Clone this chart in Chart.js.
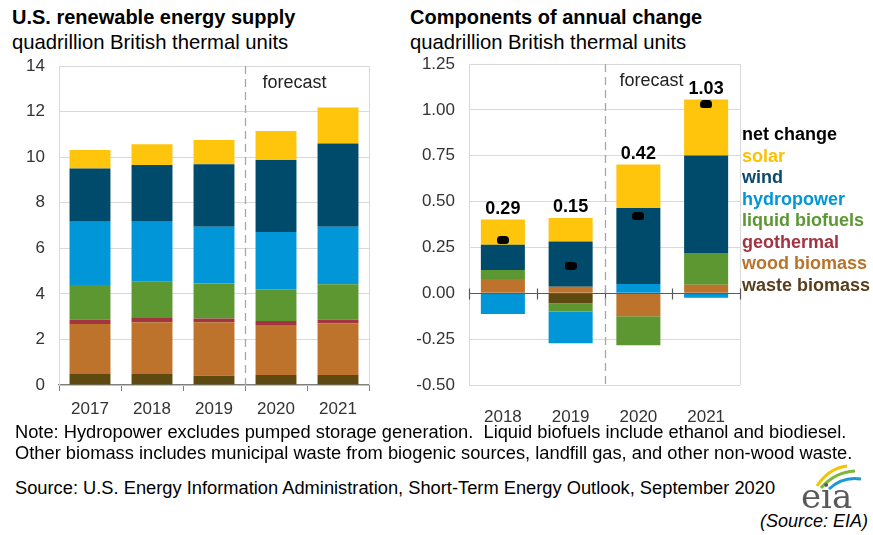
<!DOCTYPE html>
<html>
<head>
<meta charset="utf-8">
<script src="https://cdn.jsdelivr.net/npm/chart.js@4.4.0/dist/chart.umd.min.js"></script>
<style>
  body { margin: 0; width: 873px; height: 535px; background: #fff; position: relative; overflow: hidden;
         font-family: "Liberation Sans", Arial, sans-serif; color: #000; }
  .abs { position: absolute; white-space: nowrap; }
  .title { font-size: 20px; font-weight: bold; }
  .sub { font-size: 20.3px; }
  .legend div { font-size: 18px; font-weight: bold; line-height: 21.5px; }
  .note { font-size: 18.3px; line-height: 21px; }
  .box { position: absolute; top: 55px; height: 370px; }
</style>
</head>
<body>
<div class="abs title" style="left:12px; top:6px;">U.S. renewable energy supply</div>
<div class="abs sub" style="left:12px; top:31px;">quadrillion British thermal units</div>
<div class="abs title" style="left:410px; top:6px;">Components of annual change</div>
<div class="abs sub" style="left:410px; top:31px;">quadrillion British thermal units</div>

<div class="box" style="left:0; width:380px;"><canvas id="left"></canvas></div>
<div class="box" style="left:400px; width:473px;"><canvas id="right"></canvas></div>

<div class="abs legend" style="left:742px; top:124px;">
  <div style="color:#000">net change</div>
  <div style="color:#ffc000">solar</div>
  <div style="color:#0b4a6b">wind</div>
  <div style="color:#0096d7">hydropower</div>
  <div style="color:#5d9732">liquid biofuels</div>
  <div style="color:#a33340">geothermal</div>
  <div style="color:#b8732c">wood biomass</div>
  <div style="color:#5a3e1b">waste biomass</div>
</div>

<div class="abs note" style="left:15px; top:421px;">Note: Hydropower excludes pumped storage generation.&nbsp; Liquid biofuels include ethanol and biodiesel.<br>Other biomass includes municipal waste from biogenic sources, landfill gas, and other non-wood waste.</div>
<div class="abs note" style="left:15px; top:477px;">Source: U.S. Energy Information Administration, Short-Term Energy Outlook, September 2020</div>
<div class="abs" style="right:5px; top:511px; font-size:18px; font-style:italic;">(Source: EIA)</div>

<svg class="abs" style="left:795px; top:462px;" width="70" height="50">
  <path d="M22 24 Q34 6 52 4" stroke="#f5c400" stroke-width="3" fill="none"/>
  <path d="M26 26 Q40 10 60 9" stroke="#7fb539" stroke-width="3" fill="none"/>
  <path d="M34 27 Q48 14 66 17" stroke="#1b9ad6" stroke-width="3" fill="none"/>
  <text x="6" y="46" font-family="DejaVu Serif, serif" font-size="34" fill="#58595b">eia</text>
</svg>

<script>
// left chart: supply by source
const years = ["2017", "2018", "2019", "2020", "2021"];
const wasteBiomass = [0.48, 0.48, 0.41, 0.44, 0.44];
const woodBiomass = [2.20, 2.27, 2.34, 2.16, 2.26];
const geothermal = [0.20, 0.22, 0.17, 0.21, 0.18];
const liquidBiofuels = [1.51, 1.56, 1.54, 1.39, 1.54];
const hydropower = [2.77, 2.63, 2.48, 2.52, 2.52];
const wind = [2.34, 2.49, 2.75, 3.15, 3.66];
const solar = [0.81, 0.92, 1.06, 1.28, 1.58];

// right chart: annual change by source
const changeYears = ["2018", "2019", "2020", "2021"];
const wasteChange = [0, -0.055, 0, 0];
const woodChange = [0.078, 0.036, -0.125, 0.047];
const geoChange = [0, 0, 0, 0];
const biofuelChange = [0.049, -0.044, -0.158, 0.173];
const hydroChange = [-0.113, -0.173, 0.051, -0.025];
const windChange = [0.137, 0.247, 0.414, 0.531];
const solarChange = [0.138, 0.127, 0.237, 0.305];
const netChange = [0.29, 0.15, 0.42, 1.03];

const leftTicks = [0, 14, 2];
const rightTicks = [-0.5, 1.25, 0.25];

const colors = {
  waste: "#5e4a10", wood: "#bd732c", geo: "#a4343f", bio: "#5d9732",
  hydro: "#0096d7", wind: "#004b6c", solar: "#ffc40c"
};
const FONT = "Liberation Sans";

// small black rounded marker for net change
const dot = document.createElement("canvas");
dot.width = 12; dot.height = 8;
let dctx = dot.getContext("2d");
dctx.fillStyle = "#000";
dctx.beginPath();
dctx.roundRect(0, 0, 12, 8, 3.5);
dctx.fill();

const decor = {
  id: "decor",
  afterDatasetsDraw(chart, args, opts) {
    const { ctx, chartArea: a, scales: { x, y } } = chart;
    ctx.save();
    // right frame line
    ctx.strokeStyle = "#d9d9d9";
    ctx.lineWidth = 1;
    ctx.beginPath();
    ctx.moveTo(a.right + 0.5, a.top);
    ctx.lineTo(a.right + 0.5, a.bottom);
    ctx.stroke();

    // zero line with ticks
    if (opts.zeroLine) {
      let zy = Math.round(y.getPixelForValue(0)) + 0.5;
      ctx.strokeStyle = "#595959";
      ctx.lineWidth = 1.2;
      ctx.beginPath();
      ctx.moveTo(a.left, zy);
      ctx.lineTo(a.right, zy);
      let step = x.getPixelForValue(1) - x.getPixelForValue(0);
      for (let i = 0; i <= x.ticks.length; i++) {
        let tx = Math.round(x.getPixelForValue(i) - step / 2) + 0.5;
        ctx.moveTo(tx, zy - 5);
        ctx.lineTo(tx, zy + 6);
      }
      ctx.stroke();
    }

    // forecast divider
    let fx = Math.round((x.getPixelForValue(opts.split - 1) + x.getPixelForValue(opts.split)) / 2) + 0.5;
    ctx.strokeStyle = "#a6a6a6";
    ctx.lineWidth = 1.3;
    ctx.setLineDash([8, 5]);
    ctx.beginPath();
    ctx.moveTo(fx, a.top);
    ctx.lineTo(fx, a.bottom);
    ctx.stroke();
    ctx.setLineDash([]);

    ctx.fillStyle = "#222";
    ctx.font = "18px '" + FONT + "'";
    ctx.textAlign = "left";
    ctx.textBaseline = "alphabetic";
    ctx.fillText("forecast", fx + opts.gap, a.top + 21.5);

    // net change labels above each bar
    if (opts.netLabels) {
      ctx.font = "bold 18px '" + FONT + "'";
      ctx.fillStyle = "#000";
      ctx.textAlign = "center";
      const bars = chart.data.datasets.filter(d => d.type !== "line");
      opts.netLabels.forEach((v, i) => {
        let top = 0;
        bars.forEach(d => { if (d.data[i] > 0) top += d.data[i]; });
        ctx.fillText(v.toFixed(2), x.getPixelForValue(i), y.getPixelForValue(top) - 6);
      });
    }
    ctx.restore();
  }
};

function barSet(label, data, color) {
  return { label: label, data: data, backgroundColor: color, borderWidth: 0, order: 1 };
}

function fitY(w) {
  return function (s) {
    s.width = w;
    s.paddingTop = 0;
    s.paddingBottom = 0;
  };
}

// Left chart
new Chart(document.getElementById("left"), {
  type: "bar",
  data: {
    labels: years,
    datasets: [
      barSet("waste biomass", wasteBiomass, colors.waste),
      barSet("wood biomass", woodBiomass, colors.wood),
      barSet("geothermal", geothermal, colors.geo),
      barSet("liquid biofuels", liquidBiofuels, colors.bio),
      barSet("hydropower", hydropower, colors.hydro),
      barSet("wind", wind, colors.wind),
      barSet("solar", solar, colors.solar)
    ]
  },
  options: {
    responsive: true,
    maintainAspectRatio: false,
    animation: false,
    layout: { padding: { top: 11, right: 11, left: 0, bottom: 0 } },
    datasets: { bar: { categoryPercentage: 1, barPercentage: 0.66 } },
    scales: {
      x: {
        stacked: true,
        grid: { drawOnChartArea: false, drawTicks: true, tickLength: 6, color: "#7f7f7f" },
        border: { color: "#7f7f7f", width: 1.2 },
        ticks: { color: "#333", font: { family: FONT, size: 17 }, padding: 8 },
        afterFit(s) { s.height = 40; }
      },
      y: {
        stacked: true,
        min: leftTicks[0], max: leftTicks[1],
        ticks: { stepSize: leftTicks[2], color: "#333", font: { family: FONT, size: 17 }, padding: 14 },
        grid: { color: "#d9d9d9", drawTicks: false },
        border: { color: "#d9d9d9" },
        afterFit: fitY(59)
      }
    },
    plugins: {
      legend: { display: false },
      tooltip: { enabled: false },
      decor: { split: 3, gap: 17 }
    }
  },
  plugins: [decor]
});

// Right chart
new Chart(document.getElementById("right"), {
  type: "bar",
  data: {
    labels: changeYears,
    datasets: [
      { type: "line", label: "net change", data: netChange, showLine: false, pointStyle: dot,
        stack: "net", order: 0 },
      barSet("waste biomass", wasteChange, colors.waste),
      barSet("wood biomass", woodChange, colors.wood),
      barSet("geothermal", geoChange, colors.geo),
      barSet("liquid biofuels", biofuelChange, colors.bio),
      barSet("hydropower", hydroChange, colors.hydro),
      barSet("wind", windChange, colors.wind),
      barSet("solar", solarChange, colors.solar)
    ]
  },
  options: {
    responsive: true,
    maintainAspectRatio: false,
    animation: false,
    layout: { padding: { top: 9, right: 133, left: 0, bottom: 0 } },
    datasets: { bar: { categoryPercentage: 1, barPercentage: 0.65 } },
    scales: {
      x: {
        stacked: true,
        grid: { display: false },
        border: { display: false },
        ticks: { color: "#333", font: { family: FONT, size: 17 }, padding: 14 },
        afterFit(s) { s.height = 40; }
      },
      y: {
        stacked: true,
        min: rightTicks[0], max: rightTicks[1],
        ticks: { stepSize: rightTicks[2], color: "#333", font: { family: FONT, size: 17 }, padding: 14,
                 callback: v => v.toFixed(2) },
        grid: { color: "#d9d9d9", drawTicks: false },
        border: { color: "#d9d9d9" },
        afterFit: fitY(69)
      }
    },
    plugins: {
      legend: { display: false },
      tooltip: { enabled: false },
      decor: { split: 2, gap: 14, zeroLine: true, netLabels: netChange }
    }
  },
  plugins: [decor]
});
</script>
</body>
</html>
